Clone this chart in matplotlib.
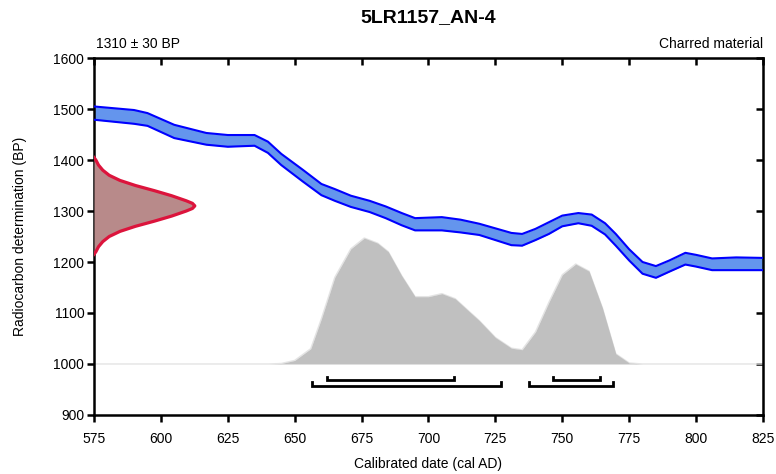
import matplotlib
matplotlib.use('Agg')
import matplotlib.pyplot as plt

plt.rcParams['font.family'] = ['Liberation Sans', 'DejaVu Sans']

# calibration curve band (cal AD, upper / lower BP)
cal_years = [575, 590, 595, 605, 617, 625, 635, 640, 645, 653, 660, 665, 671, 678, 684,
             690, 695, 705, 712, 719, 725, 731, 735, 740, 745, 750, 756, 761, 766, 770,
             775, 780, 785, 790, 796, 800, 806, 815, 825]
cal_upper = [1505, 1498, 1492, 1469, 1453, 1449, 1449, 1436, 1412, 1381, 1353, 1343, 1330, 1320, 1309,
             1296, 1286, 1288, 1283, 1275, 1266, 1257, 1255, 1265, 1278, 1291, 1296, 1293, 1276, 1255,
             1225, 1200, 1192, 1203, 1218, 1214, 1207, 1209, 1208]
cal_lower = [1479, 1471, 1467, 1443, 1430, 1426, 1428, 1414, 1390, 1358, 1331, 1320, 1308, 1298, 1286,
             1272, 1262, 1262, 1258, 1253, 1243, 1233, 1232, 1243, 1255, 1270, 1276, 1271, 1254, 1232,
             1203, 1177, 1169, 1181, 1195, 1191, 1184, 1184, 1184]

# calibrated probability distribution (plotted above 1000 BP)
post_years = [575, 640, 645, 650, 656, 660, 665, 671, 676, 681, 685, 690, 695, 700, 705,
              710, 715, 719, 725, 731, 735, 740, 745, 750, 755, 760, 765, 770, 775, 780, 825]
post_top = [1000, 1000, 1001, 1007, 1030, 1089, 1170, 1226, 1247, 1237, 1220, 1173, 1132, 1132, 1138,
            1128, 1104, 1085, 1052, 1031, 1028, 1063, 1121, 1175, 1196, 1182, 1110, 1020, 1002, 1000, 1000]

# radiocarbon determination 1310 +/- 30 BP (width in years from left axis)
det_bp = [1405, 1400, 1390, 1380, 1370, 1360, 1350, 1340, 1330, 1320, 1315, 1310, 1305,
          1300, 1290, 1280, 1270, 1260, 1250, 1240, 1230, 1220, 1215]
det_width = [0, 0.7, 1.7, 3.3, 5.7, 9.7, 15.5, 22.5, 29, 34.5, 36.8, 37.7, 36.8,
             34.5, 29, 22.5, 15.5, 9.7, 5.7, 3.3, 1.7, 0.7, 0]

# ranges: 68.2% and 95.4%
range_68 = [(662, 709.5), (746.5, 764)]
range_95 = [(656.5, 727), (737.5, 769)]

fig = plt.figure(figsize=(7.76, 4.74), dpi=100)
ax = fig.add_axes([0.1211, 0.1245, 0.8621, 0.7531])

ax.plot(post_years, post_top, color='#e4e4e4', lw=1, zorder=0.5)
ax.fill_between(post_years, 1000, post_top, color='#c0c0c0', lw=0, zorder=1)

ax.fill_between(cal_years, cal_lower, cal_upper, color='#6495ed', lw=0, zorder=2)
ax.plot(cal_years, cal_upper, color='#0000ff', lw=1.5, zorder=3)
ax.plot(cal_years, cal_lower, color='#0000ff', lw=1.5, zorder=3)

det_x = [575 + w for w in det_width]
ax.fill_betweenx(det_bp, 575, det_x, color='#b88a8a', lw=0, zorder=4)
ax.plot(det_x, det_bp, color='#dc143c', lw=2.3, zorder=5)

def bracket(lo, hi, y):
    ax.plot([lo, lo, hi, hi], [y + 7, y, y, y + 7], color='black', lw=2,
            solid_joinstyle='miter', zorder=5)

for lo, hi in range_68:
    bracket(lo, hi, 968)
for lo, hi in range_95:
    bracket(lo, hi, 957)

ax.set_xlim(575, 825)
ax.set_ylim(900, 1600)
ax.set_xticks(range(575, 826, 25))
ax.set_yticks(range(900, 1601, 100))

for s in ax.spines.values():
    s.set_linewidth(1.8)
ax.tick_params(axis='both', which='major', direction='out', length=5, width=1.8,
               labelsize=10)
ax.tick_params(axis='x', pad=7)
ax.tick_params(axis='y', pad=2)
# inward ticks on top/right
ax2x = ax.secondary_xaxis('top')
ax2x.set_xticks(range(575, 826, 25))
ax2x.tick_params(direction='in', length=5, width=1.8, labeltop=False)
ax2y = ax.secondary_yaxis('right')
ax2y.set_yticks(range(900, 1601, 100))
ax2y.tick_params(direction='in', length=5, width=1.8, labelright=False)

ax.set_xlabel('Calibrated date (cal AD)', fontsize=10, labelpad=8)
ax.set_ylabel('Radiocarbon determination (BP)', fontsize=10, labelpad=19)

fig.text(0.5522, 0.963, '5LR1157_AN-4', ha='center', va='center', fontsize=14, fontweight='bold')
ax.text(0.003, 1.02, '1310 ± 30 BP', transform=ax.transAxes, ha='left', va='bottom', fontsize=10)
ax.text(1.0, 1.02, 'Charred material', transform=ax.transAxes, ha='right', va='bottom', fontsize=10)

fig.savefig('out.png', dpi=100)
